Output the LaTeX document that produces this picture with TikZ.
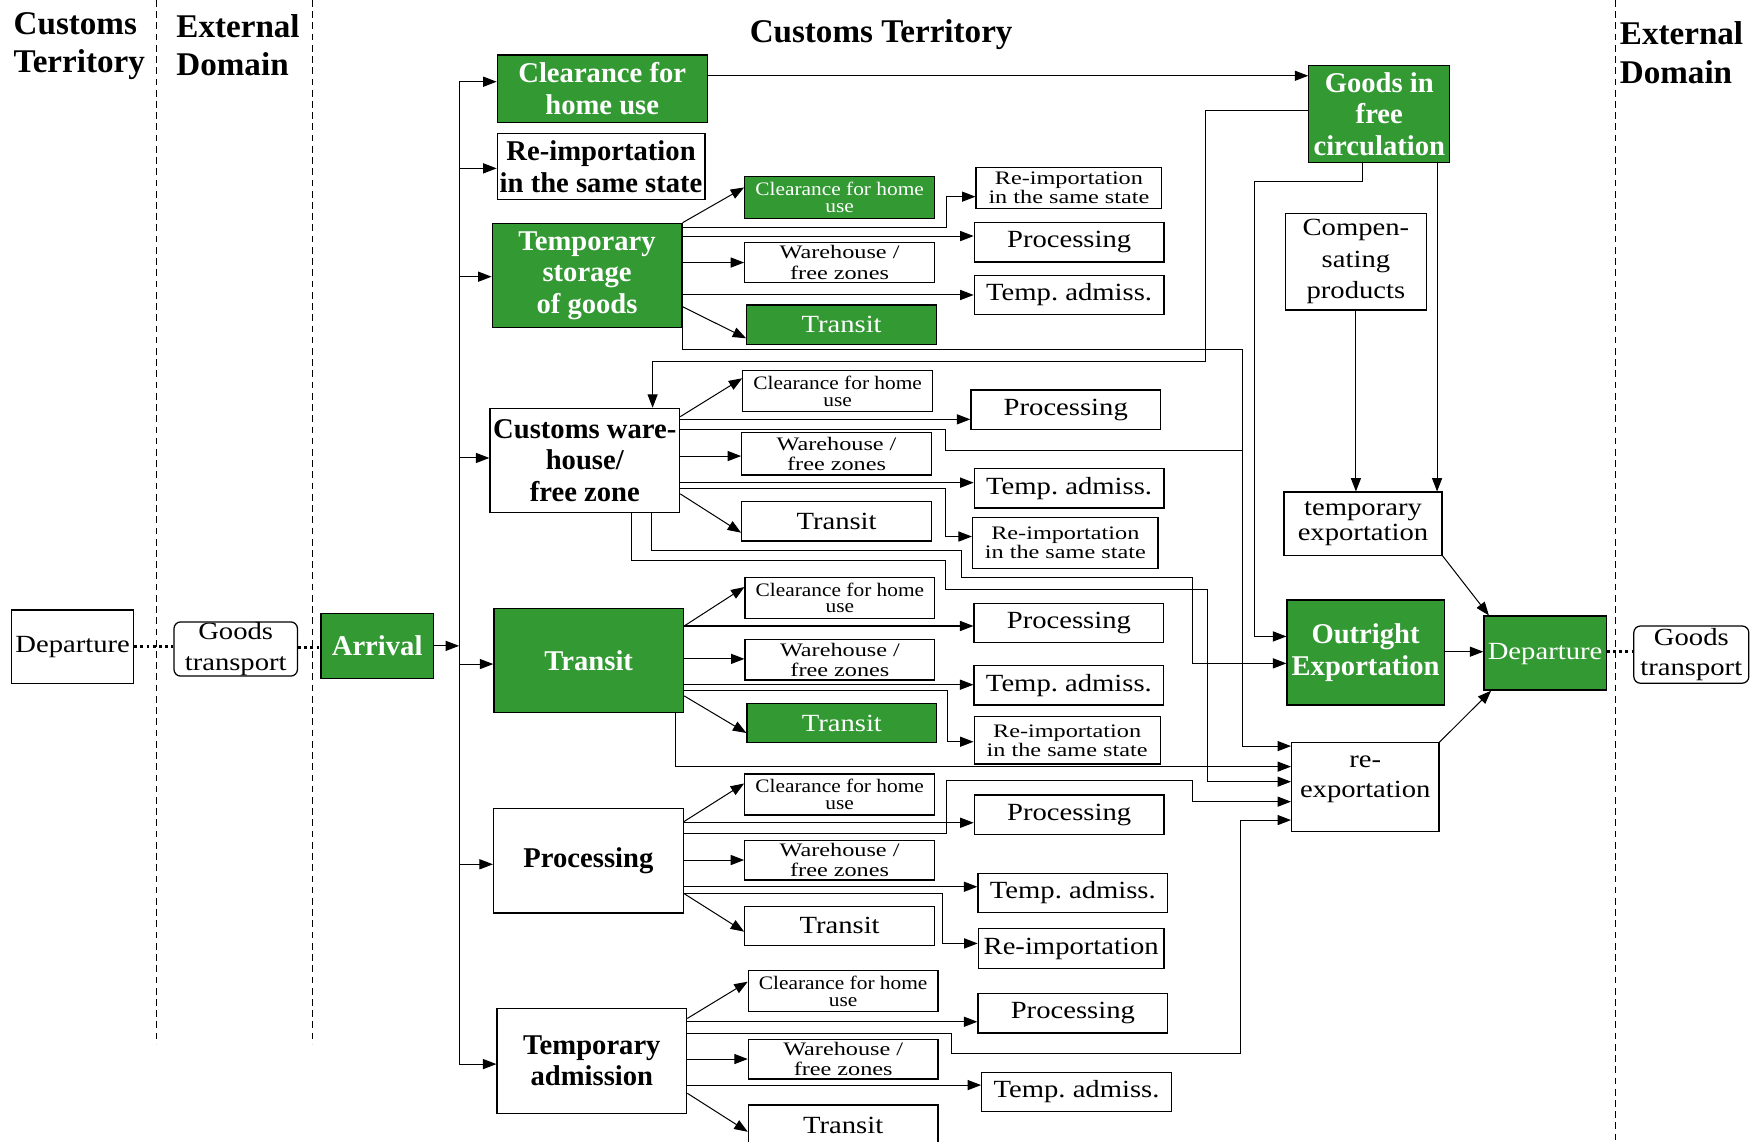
\documentclass[tikz,border=0pt]{standalone}
\usepackage{fontspec}
\setmainfont{Liberation Serif}
\newfontfamily\midfont{Liberation Serif}[FakeStretch=1.16]
\newfontfamily\tinyfont{Liberation Serif}[FakeStretch=1.27]
\newfontfamily\narrowfont{Liberation Serif}[FakeStretch=1.12]
\usetikzlibrary{arrows.meta,positioning}
\definecolor{custgreen}{RGB}{51,153,51}

\tikzset{
  box/.style={draw, line width=1.1pt, inner sep=0pt, align=center},
  mainbox/.style={box, minimum width=169pt, minimum height=93pt, font=\fontsize{25.5}{28}\selectfont\bfseries},
  subbox/.style={box, minimum width=169pt, minimum height=35pt, font=\midfont\fontsize{22}{27}\selectfont},
  smallbox/.style={box, minimum width=169pt, minimum height=36pt, font=\tinyfont\fontsize{17}{17}\selectfont},
  chubox/.style={box, minimum width=169pt, minimum height=36.5pt, font=\narrowfont\fontsize{17}{15}\selectfont},
  greenfill/.style={fill=custgreen, text=white},
  header/.style={inner sep=0pt, align=left, font=\fontsize{29.5}{34}\selectfont\bfseries},
  arr/.style={-{Triangle[length=12pt,width=9pt]}, line width=0.9pt},
  wire/.style={line width=0.9pt},
  dots/.style={line width=2.5pt, dash pattern=on 2.5pt off 3pt},
  divider/.style={line width=0.9pt, dash pattern=on 6pt off 4pt}
}

\begin{document}
\begin{tikzpicture}[x=1pt,y=-1pt]
\useasboundingbox (0,0) rectangle (1568,1017);

% Headers and domain borders
\node[header, anchor=west] (hcust) at (12,41) {Customs\\Territory};
\node[header, anchor=west] (hext) at (157,40) {External\\Domain};
\node[header] (hmid) at (785,31) {Customs Territory};
\node[header, anchor=west] (hextr) at (1443,47) {External\\Domain};
\foreach \x in {139,278} {
    \draw[divider] (\x,0) -- (\x,930); % left borders
}
\draw[divider] (1439,0) -- (1439,1017); % right border

% Arrival side
\node[box, minimum width=108.7pt, minimum height=65.3pt, font=\midfont\fontsize{22}{27}\selectfont] (depl) at (64.7,576.2) {Departure\strut};
\node[box, rounded corners=6pt, minimum width=110pt, minimum height=48.3pt, font=\midfont\fontsize{22}{27}\selectfont] (gtl) at (210,578.2) {Goods\\transport};
\node[mainbox, greenfill, minimum width=100pt, minimum height=58pt] (arrival) at (336,575.4) {Arrival};
\draw[dots] (depl.east) -- (gtl.west |- depl.east);
\draw[dots] (gtl.east |- 0,576.7) -- (arrival.west |- 0,576.7);

% Main procedures
\node[mainbox, greenfill, minimum width=187pt, minimum height=60pt] (chu) at (536.5,79) {Clearance for\\home use};
\node[mainbox, minimum width=185pt, minimum height=59pt] (rim) at (535.5,148.5) {Re-importation\\in the same state};
\node[mainbox, greenfill] (tsg) at (523,245.5) {Temporary\\storage\\of goods};
\node[mainbox] (cwh) at (521,410.3) {Customs ware-\\house/\\free zone};
\node[mainbox, greenfill] (trn) at (524.5,588.5) {Transit};
\node[mainbox] (prc) at (524.2,766.8) {Processing};
\node[mainbox] (tad) at (527.3,945.2) {Temporary\\admission};

% Trunk from arrival
\coordinate (trunk) at (409,0);
\draw[wire] (trunk |- 0,72.8) -- (trunk |- 0,948);
\draw[arr] (arrival.east) -- (trunk |- arrival.east);
\foreach \y/\n in {72.8/chu,150/rim,246.5/tsg,408/cwh,591.6/trn,770/prc,948/tad} {
    \draw[arr] (trunk |- 0,\y) -- (\n.west |- 0,\y);
}

% Group 1: temporary storage
\node[chubox, greenfill, minimum height=37pt] (g1chu) at (748,176) {Clearance for home\\use};
\node[smallbox, minimum width=165.4pt, minimum height=36.6pt] (g1ri) at (952.3,167.3) {Re-importation\\in the same state};
\node[subbox] (g1pr) at (952.5,216) {Processing};
\node[smallbox, minimum height=35.3pt, font=\tinyfont\fontsize{17}{18}\selectfont] (g1wh) at (748,233.9) {Warehouse /\\free zones};
\node[subbox] (g1ta) at (952.5,262.8) {Temp.\ admiss.};
\node[subbox, greenfill] (g1tr) at (749.8,289.3) {Transit};

\draw[arr] (tsg.north east) -- (g1chu.west |- 0,167);
\draw[arr] (tsg.east |- 0,202.8) -| (843.5,175.2) -- (g1ri.west |- 0,175.2);
\draw[arr] (tsg.east |- 0,210.3) -- (g1pr.west |- 0,210.3);
\draw[arr] (tsg.east |- g1wh) -- (g1wh.west);
\draw[arr] (tsg.east |- g1ta) -- (g1ta.west);
\draw[arr] (tsg.east |- 0,273.2) -- (g1tr.west |- 0,301.4);

% Group 2: customs warehouse
\node[chubox] (g2chu) at (746.3,348.5) {Clearance for home\\use};
\node[subbox] (g2pr) at (949.5,365) {Processing};
\node[smallbox, minimum height=37.7pt, font=\tinyfont\fontsize{17}{18}\selectfont] (g2wh) at (745.3,404.3) {Warehouse /\\free zones};
\node[subbox] (g2ta) at (952.5,435.1) {Temp.\ admiss.};
\node[subbox] (g2tr) at (745.3,464.5) {Transit};
\node[smallbox, minimum width=165.3pt, minimum height=45pt] (g2ri) at (949.1,483.7) {Re-importation\\in the same state};

\draw[arr] (cwh.east |- 0,371.2) -- (g2chu.west |- 0,337);
\draw[arr] (cwh.east |- 0,373.6) -- (g2pr.west |- 0,373.6);
\draw[arr] (cwh.east |- 0,406.3) -- (g2wh.west |- 0,406.3);
\draw[arr] (cwh.east |- 0,430) -- (g2ta.west |- 0,430);
\draw[arr] (cwh.east |- 0,435) -| (842,478) -- (g2ri.west |- 0,478);
\draw[arr] (cwh.east |- 0,440) -- (g2tr.west |- 0,474.6);

% Group 3: transit
\node[chubox] (g3chu) at (748.3,532.6) {Clearance for home\\use};
\node[subbox] (g3pr) at (952.3,555) {Processing};
\node[smallbox, minimum height=36.2pt, font=\tinyfont\fontsize{17}{18}\selectfont] (g3wh) at (748.3,587.7) {Warehouse /\\free zones};
\node[subbox] (g3ta) at (952.3,610.5) {Temp.\ admiss.};
\node[subbox, greenfill] (g3tr) at (750,644.2) {Transit};
\node[smallbox, minimum width=165.7pt, minimum height=42pt] (g3ri) at (950.7,659.6) {Re-importation\\in the same state};

\draw[arr] (trn.east |- 0,557.7) -- (g3chu.west |- 0,523);
\draw[arr] (trn.east |- 0,557.7) -- (g3pr.west |- 0,557.7);
\draw[arr] (trn.east |- 0,587) -- (g3wh.west |- 0,587);
\draw[arr] (trn.east |- 0,610) -- (g3ta.west |- 0,610);
\draw[arr] (trn.east |- 0,614.8) -| (843.7,660.8) -- (g3ri.west |- 0,660.8);
\draw[arr] (trn.east |- 0,620) -- (g3tr.west |- 0,653);

% Group 4: processing
\node[chubox] (g4chu) at (748,707.8) {Clearance for home\\use};
\node[subbox] (g4pr) at (952.5,725.7) {Processing};
\node[smallbox, minimum height=35pt, font=\tinyfont\fontsize{17}{18}\selectfont] (g4wh) at (748,766.5) {Warehouse /\\free zones};
\node[subbox] (g4ta) at (955.8,795.5) {Temp.\ admiss.};
\node[subbox] (g4tr) at (748,824.8) {Transit};
\node[subbox, minimum width=165.5pt, minimum height=36pt] (g4ri) at (954.3,845) {Re-importation};

\draw[arr] (prc.east |- 0,732) -- (g4chu.west |- 0,698);
\draw[arr] (prc.east |- 0,733) -- (g4pr.west |- 0,733);
\draw[arr] (prc.east |- 0,766.2) -- (g4wh.west |- 0,766.2);
\draw[arr] (prc.east |- 0,790) -- (g4ta.west |- 0,790);
\draw[arr] (prc.east |- 0,795.9) -| (840,840.5) -- (g4ri.west |- 0,840.5);
\draw[arr] (prc.east |- 0,796) -- (g4tr.west |- 0,830);

% Group 5: temporary admission
\node[chubox] (g5chu) at (751.2,883) {Clearance for home\\use};
\node[subbox] (g5pr) at (955.8,902.8) {Processing};
\node[smallbox, minimum height=35.3pt, font=\tinyfont\fontsize{17}{18}\selectfont] (g5wh) at (751.2,943.7) {Warehouse /\\free zones};
\node[subbox] (g5ta) at (959.1,972.9) {Temp.\ admiss.};
\node[subbox, minimum height=36pt] (g5tr) at (751.2,1002.5) {Transit};

\draw[arr] (tad.east |- 0,907.3) -- (g5chu.west |- 0,874.6);
\draw[arr] (tad.east |- 0,910.3) -- (g5pr.west |- 0,910.3);
\draw[arr] (tad.east |- 0,943.5) -- (g5wh.west |- 0,943.5);
\draw[arr] (tad.east |- 0,966.7) -- (g5ta.west |- 0,966.7);
\draw[arr] (tad.east |- 0,974) -- (g5tr.west |- 0,1008.3);

% Exit side
\node[box, greenfill, minimum width=125.5pt, minimum height=86.6pt, font=\fontsize{25.5}{28}\selectfont\bfseries] (gfc) at (1228.8,101.5) {Goods in\\free\\circulation};
\node[subbox, minimum width=125.6pt, minimum height=86.2pt, font=\midfont\fontsize{22}{28}\selectfont] (cmp) at (1208,233.1) {Compen-\\sating\\products};
\node[subbox, minimum width=140.6pt, minimum height=56.2pt, font=\midfont\fontsize{22}{23}\selectfont] (tex) at (1214.3,466.5) {temporary\\exportation};
\node[mainbox, greenfill, minimum width=140pt, minimum height=93.4pt] (oex) at (1216.6,581.3) {Outright\\Exportation};
\node[subbox, minimum width=131.2pt, minimum height=79.3pt] (rex) at (1216.3,701.4) {re-\\exportation\\[-8pt]\mbox{}};
\node[subbox, greenfill, minimum width=109pt, minimum height=66pt] (dpr) at (1376.5,581.8) {Departure\strut};
\node[subbox, rounded corners=6pt, minimum width=102.5pt, minimum height=51pt] (gtr) at (1506.8,583.2) {Goods\\transport};

% Flows to free circulation and exportation
\draw[arr] (chu.east |- 0,67.5) -- (gfc.west |- 0,67.5);
\draw[arr] (gfc.west |- 0,98.6) -| (1074.1,322.2) -| (cwh.north -| 581.4,0);
\draw[arr] (gfc.south -| 1213.5,0) |- (1117.5,161.6) |- (oex.west |- 0,567);
\draw[arr] (gfc.south -| 1280.3,0) -- (tex.north -| 1280.3,0);
\draw[arr] (cmp.south) -- (tex.north -| cmp.south);
\draw[arr] (cwh.south -| 580.5,0) |- (856.7,490.6) |- (1062.5,514.4) |- (oex.west |- 0,591);

% Flows to re-exportation
\draw[arr] (tsg.south east) |- (1106.6,311.2) |- (rex.west |- 0,664.7);
\draw[wire] (cwh.east |- 0,382.5) -| (842,401) -- (1106.6,401);
\draw[arr] (cwh.south -| 562.8,0) |- (842,499.5) |- (1075.6,525) |- (rex.west |- 0,696.4);
\draw[arr] (trn.south -| 602.2,0) |- (rex.west |- 0,683);
\draw[arr] (prc.east |- 0,743) -| (843.5,695.5) -| (1062.4,714.2) -- (rex.west |- 0,714.2);
\draw[arr] (tad.east |- 0,920.6) -| (847.8,939) -| (1104.8,730.6) -- (rex.west |- 0,730.6);

% Departure
\draw[arr] (tex.south east) -- ([xshift=5pt]dpr.north west);
\draw[arr] (oex.east |- 0,580.6) -- (dpr.west |- 0,580.6);
\draw[arr] (rex.north east) -- ([xshift=7pt]dpr.south west);
\draw[dots] (dpr.east |- 0,580.6) -- (gtr.west |- 0,580.6);

\end{tikzpicture}
\end{document}
